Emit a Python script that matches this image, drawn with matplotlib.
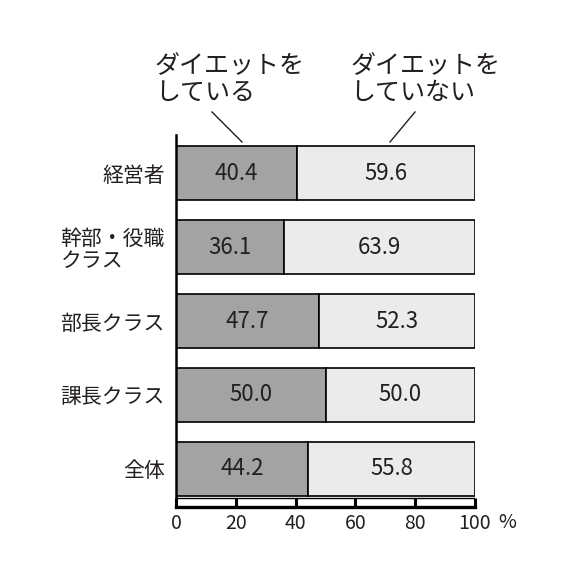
import matplotlib
matplotlib.use("Agg")
import matplotlib.pyplot as plt
from matplotlib import font_manager

plt.rcParams['font.family'] = ['Noto Sans CJK JP', 'DejaVu Sans']

# データ
categories = ['経営者', '幹部・役職\nクラス', '部長クラス', '課長クラス', '全体']
dieting = [40.4, 36.1, 47.7, 50.0, 44.2]
not_dieting = [59.6, 63.9, 52.3, 50.0, 55.8]
xticks = [0, 20, 40, 60, 80, 100]

# 数字用に細めのフォントがあれば使う
installed = {f.name for f in font_manager.fontManager.ttflist}
num_font = 'Noto Sans CJK JP'
for name in ['Liberation Sans Narrow', 'DejaVu Sans Condensed']:
    if name in installed:
        num_font = name
        break

txt = '#231f20'
dark = '#a3a3a3'
light = '#ebebeb'

fig = plt.figure(figsize=(5.8, 5.7), dpi=100)
ax = fig.add_axes([176 / 580, 63 / 570, 299 / 580, 372 / 570])

y = list(range(len(categories)))
ax.barh(y, dieting, height=0.73, color=dark, edgecolor='black', linewidth=1.2)
ax.barh(y, not_dieting, left=dieting, height=0.73, color=light,
        edgecolor='black', linewidth=1.2)

for i in y:
    ax.text(dieting[i] / 2, i, f'{dieting[i]:.1f}', ha='center', va='center',
            fontsize=16, color=txt, family=num_font)
    ax.text(dieting[i] + not_dieting[i] / 2, i, f'{not_dieting[i]:.1f}',
            ha='center', va='center', fontsize=16, color=txt, family=num_font)

ax.set_xlim(0, 100)
ax.set_ylim(4.514, -0.514)
ax.set_yticks(y)
ax.set_yticklabels(categories, fontsize=15, color=txt)
for lab in ax.get_yticklabels():
    lab.set_multialignment('left')
    lab.set_linespacing(1.05)
ax.tick_params(axis='y', length=0, pad=8)

ax.set_xticks(xticks)
ax.set_xticklabels([str(t) for t in xticks], fontsize=14, color=txt,
                   family=num_font)
ax.tick_params(axis='x', direction='in', length=6.5, width=2.2, pad=4,
               color='black')
ax.axhline(4.39, color='black', linewidth=1.0)

for s in ['top', 'right']:
    ax.spines[s].set_visible(False)
ax.spines['left'].set_linewidth(1.8)
ax.spines['bottom'].set_linewidth(2.4)

fig.text(498 / 580, 1 - 522 / 570, '%', fontsize=14, color=txt,
         ha='left', va='center', family=num_font)

# 上部の注記
fig.text(155 / 580, 1 - 53 / 570, 'ダイエットを\nしている', fontsize=18,
         color=txt, ha='left', va='top', linespacing=1.05)
fig.text(350 / 580, 1 - 53 / 570, 'ダイエットを\nしていない', fontsize=18,
         color=txt, ha='left', va='top', linespacing=1.05)
fig.add_artist(plt.Line2D([212 / 580, 242 / 580], [1 - 112 / 570, 1 - 142 / 570],
                          color=txt, linewidth=1.0))
fig.add_artist(plt.Line2D([415 / 580, 390 / 580], [1 - 112 / 570, 1 - 142 / 570],
                          color=txt, linewidth=1.0))

fig.savefig('out.png', dpi=100)
